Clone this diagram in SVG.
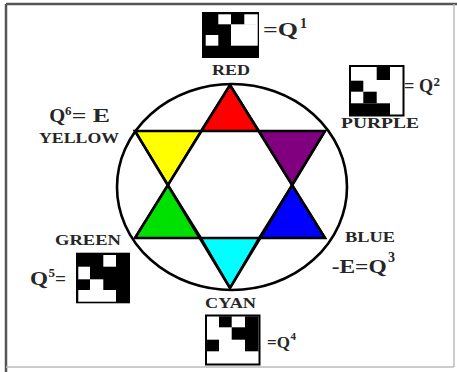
<svg xmlns="http://www.w3.org/2000/svg" width="457" height="372" viewBox="0 0 457 372">
<style>
.lbl{font-family:"Liberation Serif","Times New Roman",serif;font-weight:bold;fill:#262626;}
.edge{fill:none;stroke:#000;stroke-width:2.6;stroke-linejoin:miter;}
.tri{stroke:#000;stroke-width:2.2;stroke-linejoin:miter;}
.blk{fill:#000;}
.wht{fill:#fff;}
</style>
<rect x="0" y="0" width="457" height="372" fill="#fff"/>
<g id="frame">
<line x1="6" y1="4" x2="457" y2="4" stroke="#555" stroke-width="2.5"/>
<line x1="6" y1="4" x2="6" y2="372" stroke="#555" stroke-width="2.5"/>
<line x1="6" y1="367" x2="454" y2="367" stroke="#bbb" stroke-width="1.5"/>
<line x1="454" y1="4" x2="454" y2="367" stroke="#bbb" stroke-width="1.5"/>
</g>
<g id="connectors">
<ellipse cx="232" cy="187" rx="115" ry="103" class="edge"/>
</g>
<g id="star">
<polygon id="red" class="tri" fill="#ff0000" points="230,85 201,131 259,131"/>
<polygon id="purple" class="tri" fill="#800080" points="259,131 325,131 292,185"/>
<polygon id="blue" class="tri" fill="#0000ff" points="292,185 325,238 259,238"/>
<polygon id="cyan" class="tri" fill="#00ffff" points="259,238 201,238 230,288"/>
<polygon id="green" class="tri" fill="#00e000" points="201,238 135,238 168,185"/>
<polygon id="yellow" class="tri" fill="#ffff00" points="168,185 135,131 201,131"/>
<polygon class="edge" points="230,85 325,238 135,238"/>
<polygon class="edge" points="230,288 135,131 325,131"/>
</g>
<g id="node-red">
<text class="lbl" x="212" y="75" font-size="14" textLength="38" lengthAdjust="spacingAndGlyphs">RED</text>
</g>
<g id="node-purple">
<text class="lbl" x="341" y="128" font-size="15" textLength="78" lengthAdjust="spacingAndGlyphs">PURPLE</text>
</g>
<g id="node-yellow">
<text class="lbl" x="39" y="142.5" font-size="15" textLength="80" lengthAdjust="spacingAndGlyphs">YELLOW</text>
</g>
<g id="node-green">
<text class="lbl" x="55" y="245" font-size="15" textLength="66" lengthAdjust="spacingAndGlyphs">GREEN</text>
</g>
<g id="node-blue">
<text class="lbl" x="345" y="241.5" font-size="14.5" textLength="50" lengthAdjust="spacingAndGlyphs">BLUE</text>
</g>
<g id="node-cyan">
<text class="lbl" x="205" y="308" font-size="14" textLength="51" lengthAdjust="spacingAndGlyphs">CYAN</text>
</g>
<g id="node-q1">
<rect class="blk" x="202" y="12" width="57" height="46"/>
<rect class="wht" x="218.3" y="14.3" width="12.7" height="10"/>
<rect class="wht" x="244.3" y="14.3" width="13.4" height="10.5"/>
<rect class="wht" x="231" y="24.3" width="26.7" height="21.4"/>
<rect class="wht" x="205.7" y="35" width="12.6" height="10.7"/>
<text class="lbl" x="263" y="36" font-size="19" textLength="35" lengthAdjust="spacingAndGlyphs">=Q</text>
<text class="lbl" x="300" y="28" font-size="14">1</text>
</g>
<g id="node-q2">
<rect x="350" y="66" width="53.5" height="49.5" fill="#fff" stroke="#000" stroke-width="2"/>
<rect class="blk" x="376.7" y="67" width="13.3" height="13"/>
<rect class="blk" x="350" y="80.7" width="13.3" height="11"/>
<rect class="blk" x="363.3" y="91.7" width="13.4" height="11.6"/>
<rect class="blk" x="350" y="103.3" width="40" height="12"/>
<text class="lbl" x="404" y="92" font-size="19" textLength="29" lengthAdjust="spacingAndGlyphs">= Q</text>
<text class="lbl" x="433.5" y="86" font-size="13">2</text>
</g>
<g id="node-q6">
<text class="lbl" x="49.3" y="121.7" font-size="19" textLength="16" lengthAdjust="spacingAndGlyphs">Q</text>
<text class="lbl" x="65" y="115" font-size="13">6</text>
<text class="lbl" x="71.7" y="121.7" font-size="19" textLength="38.3" lengthAdjust="spacingAndGlyphs">= E</text>
</g>
<g id="node-q5">
<rect class="blk" x="76" y="252.7" width="54" height="50.6"/>
<rect class="wht" x="103.3" y="255" width="12.7" height="11.7"/>
<rect class="wht" x="78.3" y="266.7" width="11.7" height="12.6"/>
<rect class="wht" x="90" y="279.3" width="13.3" height="11"/>
<rect class="wht" x="78.3" y="290" width="37.7" height="11.7"/>
<text class="lbl" x="30" y="285" font-size="19" textLength="18" lengthAdjust="spacingAndGlyphs">Q</text>
<text class="lbl" x="48.5" y="276.5" font-size="13">5</text>
<text class="lbl" x="55" y="285" font-size="19" textLength="11" lengthAdjust="spacingAndGlyphs">=</text>
</g>
<g id="node-q3">
<text class="lbl" x="331.7" y="273" font-size="18" textLength="55" lengthAdjust="spacingAndGlyphs">-E=Q</text>
<text class="lbl" x="388" y="262" font-size="14">3</text>
</g>
<g id="node-q4">
<rect x="206" y="315.5" width="53.5" height="49" fill="#fff" stroke="#000" stroke-width="2"/>
<rect class="blk" x="219" y="316.3" width="12.7" height="11"/>
<rect class="blk" x="245" y="316.3" width="13.5" height="35"/>
<rect class="blk" x="231.7" y="327.3" width="13.3" height="12.4"/>
<rect class="blk" x="206.7" y="339.7" width="12.3" height="11.6"/>
<text class="lbl" x="267" y="348" font-size="17" textLength="23" lengthAdjust="spacingAndGlyphs">=Q</text>
<text class="lbl" x="290.5" y="340" font-size="11">4</text>
</g>
</svg>
